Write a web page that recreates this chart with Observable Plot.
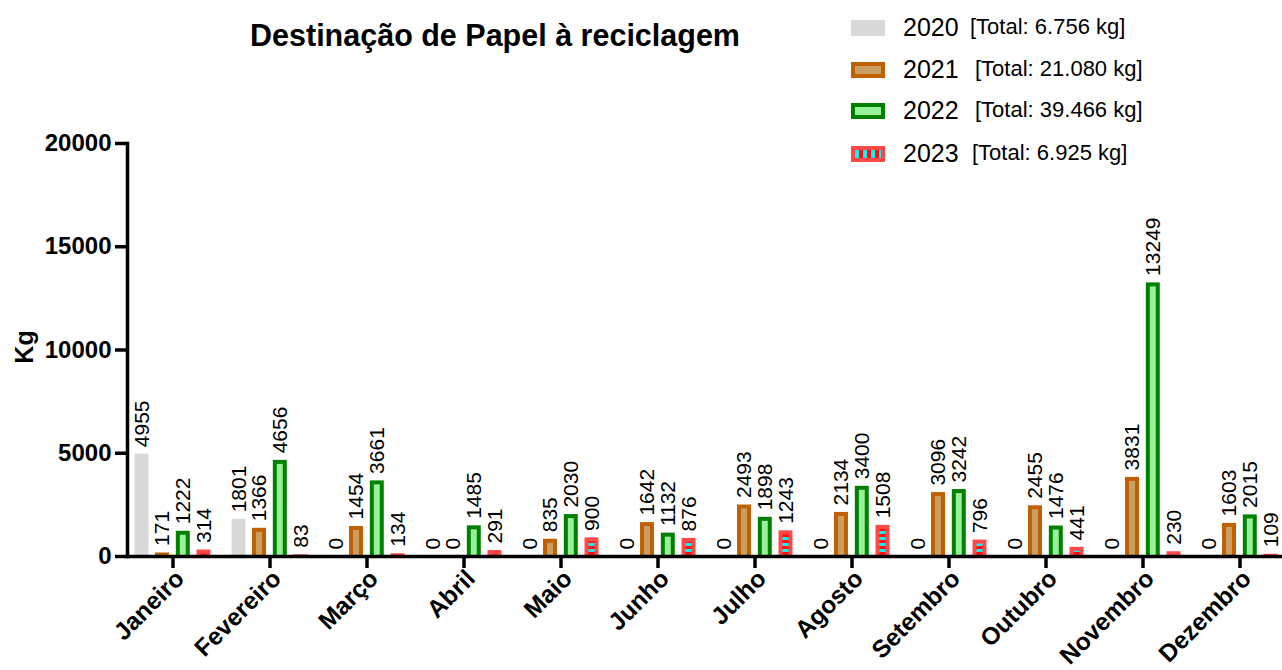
<!DOCTYPE html>
<html>
<head>
<meta charset="utf-8">
<script src="https://cdn.jsdelivr.net/npm/d3@7"></script>
<script src="https://cdn.jsdelivr.net/npm/@observablehq/plot@0.6"></script>
<style>
  html, body { margin: 0; padding: 0; background: #fff; }
  body { width: 1282px; height: 670px; position: relative; overflow: hidden; font-family: "Liberation Sans", Arial, sans-serif; }
  #chart { position: absolute; left: 0; top: 0; }
  .title { position: absolute; left: 0; width: 990px; top: 18px; text-align: center; font-weight: bold; font-size: 30.5px; color: #000; }
  .ylabel { position: absolute; left: 24px; top: 347px; transform: translate(-50%, -50%) rotate(-90deg); font-weight: bold; font-size: 25px; white-space: nowrap; }
  .legend { position: absolute; left: 851px; top: 0; }
  .row { position: absolute; left: 0; height: 30px; white-space: nowrap; }
  .sw { position: absolute; left: 0; width: 34px; height: 16px; box-sizing: border-box; }
  .yr { position: absolute; left: 52px; font-size: 25px; }
  .tot { position: absolute; font-size: 22px; }
</style>
</head>
<body>
<div id="chart"></div>
<div class="title">Destinação de Papel à reciclagem</div>
<div class="ylabel">Kg</div>
<div class="legend" id="legend"></div>
<script>
const months = ["Janeiro", "Fevereiro", "Março", "Abril", "Maio", "Junho", "Julho", "Agosto", "Setembro", "Outubro", "Novembro", "Dezembro"];
const years = ["2020", "2021", "2022", "2023"];
const v2020 = [4955, 1801, 0, 0, 0, 0, 0, 0, 0, 0, 0, 0];
const v2021 = [171, 1366, 1454, 0, 835, 1642, 2493, 2134, 3096, 2455, 3831, 1603];
const v2022 = [1222, 4656, 3661, 1485, 2030, 1132, 1898, 3400, 3242, 1476, 13249, 2015];
const v2023 = [314, 83, 134, 291, 900, 876, 1243, 1508, 796, 441, 230, 109];
const yTicks = [0, 5000, 10000, 15000, 20000];

const series = [v2020, v2021, v2022, v2023];
const rows = years.map((yr, k) => months.map((m, i) => ({month: m, year: yr, value: series[k][i]})));

// per-year styling (bar outer colour, inner colour) and offset inside the month group
const style = {
  "2020": {outer: "#d9d9d9", inner: null, dx: -31},
  "2021": {outer: "#c06000", inner: "#c9a062", dx: -10.5},
  "2022": {outer: "#008000", inner: "#98f098", dx: 10.3},
  "2023": {outer: "#ff4848", inner: "url(#checker)", dx: 31}
};

const W = 1282, H = 670;
const xRange = [123.5, 1288.2];
const band = (xRange[1] - xRange[0]) / months.length;
const barW = 14, border = 4;
const inset = (band - barW) / 2;

const marks = [];
years.forEach((yr, k) => {
  const s = style[yr];
  marks.push(Plot.barY(rows[k], {x: "month", y: "value", fill: s.outer, dx: s.dx, insetLeft: inset, insetRight: inset}));
  if (s.inner) {
    marks.push(Plot.barY(rows[k], {x: "month", y: "value", fill: s.inner, dx: s.dx,
      insetLeft: inset + border, insetRight: inset + border, insetTop: border}));
  }
});
marks.push(Plot.ruleY([0], {stroke: "#000", strokeWidth: 3.5}));
marks.push(Plot.frame({anchor: "left", stroke: "#000", strokeWidth: 3.5}));
marks.push(Plot.axisY({ticks: yTicks, tickFormat: d => String(d), tickSize: 12, tickPadding: 4, strokeWidth: 3.5, fontSize: 24, fontWeight: "bold", label: null}));
marks.push(Plot.axisX({tickRotate: -45, tickSize: 12, tickPadding: 7, strokeWidth: 3.5, fontSize: 24.5, fontWeight: "bold", label: null}));
years.forEach((yr, k) => {
  const s = style[yr];
  marks.push(Plot.text(rows[k], {x: "month", y: "value", text: d => String(d.value), rotate: -90, textAnchor: "start",
    dx: s.dx, dy: -7, fontSize: 21, fontWeight: "normal", fill: "#000"}));
});

const chart = Plot.plot({
  width: W, height: H,
  marginLeft: 127, marginRight: 0, marginTop: 143, marginBottom: 114,
  style: {fontFamily: "'Liberation Sans', Arial, sans-serif", fontSize: "23px", color: "#000", background: "transparent"},
  x: {domain: months, range: xRange, padding: 0},
  y: {domain: [0, 20000]},
  marks
});

// tick labels sit a little right of their ticks, as in the reference
d3.select(chart).selectAll('g[aria-label="x-axis tick label"]').attr("transform", function() {
  const t = this.getAttribute("transform") || "";
  return t + " translate(7,-1)";
});

// checker pattern for 2023 bars
const defs = d3.select(chart).insert("defs", ":first-child");
const pat = defs.append("pattern").attr("id", "checker").attr("patternUnits", "userSpaceOnUse").attr("width", 6).attr("height", 6);
pat.append("rect").attr("width", 6).attr("height", 6).attr("fill", "#ff1010");
pat.append("rect").attr("y", 3).attr("width", 6).attr("height", 3).attr("fill", "#10f0f0");
document.getElementById("chart").appendChild(chart);

// legend
const fmt = n => String(n).replace(/\B(?=(\d{3})+(?!\d))/g, ".");
const legendTops = [13, 55, 96, 139];
const totLeft = [119, 124, 124, 121];
const leg = document.getElementById("legend");
years.forEach((yr, k) => {
  const total = d3.sum(series[k]);
  const row = document.createElement("div");
  row.className = "row";
  row.style.top = legendTops[k] + "px";
  const sw = document.createElement("div");
  sw.className = "sw";
  sw.style.top = "7px";
  const s = style[yr];
  if (yr === "2020") sw.style.background = s.outer;
  else if (yr === "2023") { sw.style.border = "4px solid " + s.outer; sw.style.background = "repeating-linear-gradient(90deg, #10f0f0 0 4px, #ff1010 4px 8px)"; }
  else { sw.style.border = "4px solid " + s.outer; sw.style.background = s.inner; }
  row.appendChild(sw);
  const y = document.createElement("div"); y.className = "yr"; y.textContent = yr; y.style.top = "0px"; row.appendChild(y);
  const t = document.createElement("div"); t.className = "tot"; t.textContent = `[Total: ${fmt(total)} kg]`; t.style.left = totLeft[k] + "px"; t.style.top = "1px"; row.appendChild(t);
  leg.appendChild(row);
});
</script>
</body>
</html>
